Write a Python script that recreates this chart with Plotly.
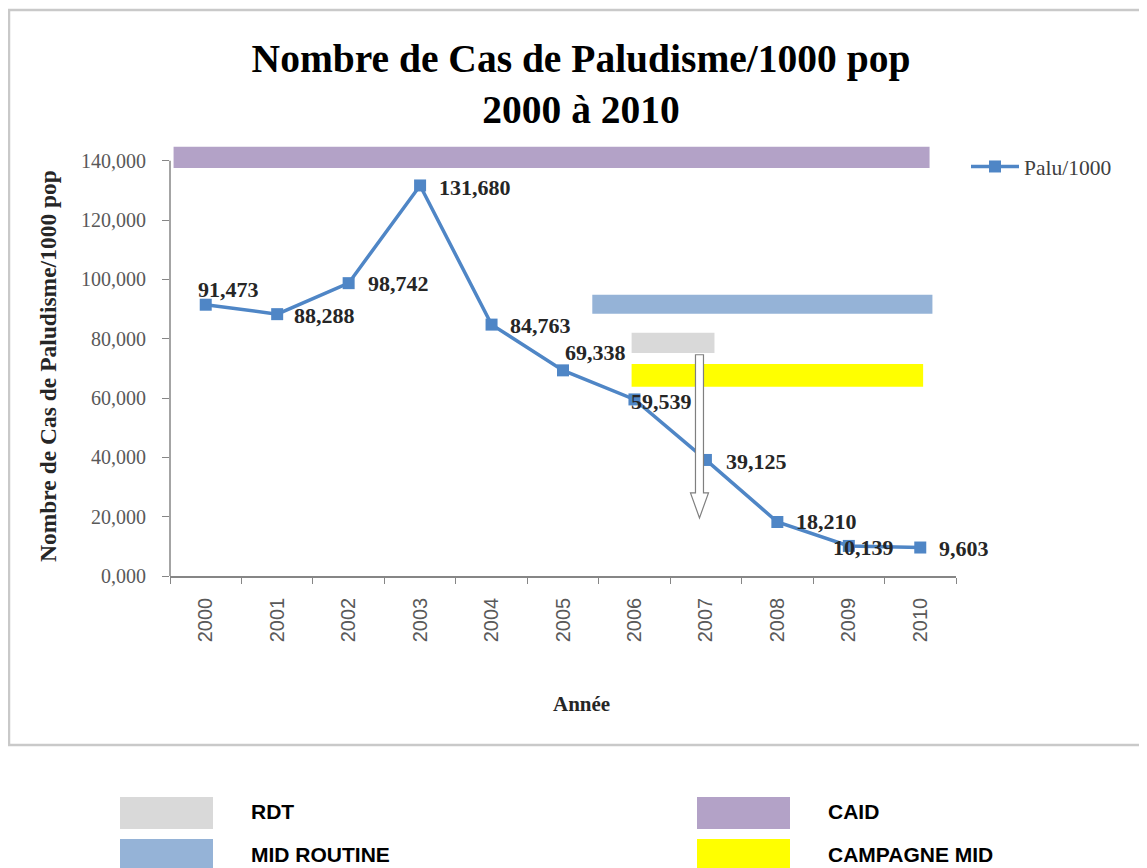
import plotly.graph_objects as go

# --- data -------------------------------------------------------------
years = ["2000", "2001", "2002", "2003", "2004", "2005",
         "2006", "2007", "2008", "2009", "2010"]
palu_per_1000 = [91.473, 88.288, 98.742, 131.680, 84.763, 69.338,
                 59.539, 39.125, 18.210, 10.139, 9.603]

# label offsets from each point, in pixels (left edge / vertical)
label_dx = [-10, 15, 17, 17, 16, 0, -5, 18, 17, -18, 17]
label_dy = [15, -1, 0, -2, -1, 18, -2, -2, 0, -2, -1]

# intervention periods (x in category index units, y band in chart units)
interventions = ["RDT", "MID ROUTINE", "CAID", "CAMPAGNE MID"]
interv_start = [5.96, 5.41, -0.45, 5.96]
interv_end = [7.12, 10.17, 10.13, 10.04]
interv_low = [75.2, 88.4, 137.6, 63.8]
interv_high = [82.0, 94.8, 144.7, 71.5]
interv_colors = ["#d9d9d9", "#95b3d7", "#b3a2c7", "#ffff00"]

# arrow marking the drop after RDT introduction
arrow_x = 6.91
arrow_top = 74.6
arrow_head = 28.0
arrow_tip = 19.6

# --- layout helpers ---------------------------------------------------
W, H = 1147, 868
OFF = 8  # page body margin
L, R, T, B = 162, 199, 135, 300


def px_x(px):
    return (px - OFF - L) / (W - L - R)


def px_y(py):
    return (H - B - (py - OFF)) / (H - T - B)


def fmt(v):
    return f"{v:.3f}".replace(".", ",")


fig = go.Figure()

fig.add_trace(
    go.Scatter(
        x=years,
        y=palu_per_1000,
        mode="lines+markers",
        name="Palu/1000",
        line={"color": "#4f86c6", "width": 3.5},
        marker={"symbol": "square", "size": 12, "color": "#4f86c6"},
        cliponaxis=False,
    )
)

annotations = []
# category axis: annotations are placed by category index
for i, (v, dx, dy) in enumerate(zip(palu_per_1000, label_dx, label_dy)):
    annotations.append(dict(
        xref="x", yref="y", x=i, y=v, text=f"<b>{fmt(v)}</b>",
        showarrow=False, xanchor="left", yanchor="middle",
        xshift=dx, yshift=dy,
        font={"family": "Liberation Serif", "size": 22, "color": "#262626"},
    ))

# axis titles (placed as in the original, slightly off the plot centre)
annotations.append(dict(
    xref="paper", yref="paper", x=px_x(581), y=px_y(704), text="<b>Année</b>",
    showarrow=False, xanchor="center", yanchor="middle",
    font={"family": "Liberation Serif", "size": 21, "color": "#262626"},
))
annotations.append(dict(
    xref="paper", yref="paper", x=px_x(48), y=px_y(366), textangle=-90,
    text="<b>Nombre de Cas de Paludisme/1000 pop</b>",
    showarrow=False, xanchor="center", yanchor="middle",
    font={"family": "Liberation Serif", "size": 23.5, "color": "#262626"},
))

shapes = []
for name, x0, x1, y0, y1, col in zip(interventions, interv_start, interv_end,
                                     interv_low, interv_high, interv_colors):
    shapes.append(dict(type="rect", xref="x", yref="y", x0=x0, x1=x1,
                       y0=y0, y1=y1, fillcolor=col, line={"width": 0},
                       layer="below"))

# y axis line only up to the last tick
shapes.append(dict(type="line", xref="paper", yref="y", x0=0, x1=0,
                   y0=0, y1=140, line={"color": "#868686", "width": 1.5}))

# arrow
shapes.append(dict(
    type="path", xref="x", yref="y", xsizemode="pixel", xanchor=arrow_x,
    path=(f"M -4,{arrow_top} L 4,{arrow_top} L 4,{arrow_head} L 9,{arrow_head} "
          f"L 0,{arrow_tip} L -9,{arrow_head} L -4,{arrow_head} Z"),
    fillcolor="white", line={"color": "#7f7f7f", "width": 1.2}, layer="above",
))

# outer chart frame
shapes.append(dict(type="rect", xref="paper", yref="paper",
                   x0=px_x(9), x1=px_x(1145), y0=px_y(745), y1=px_y(10),
                   line={"color": "#c9c9c9", "width": 2.5}, layer="below"))

# bottom key for the interventions
key_boxes = [(120, 797), (120, 839), (697, 797), (697, 839)]
for name, col, (bx, by) in zip(interventions, interv_colors, key_boxes):
    shapes.append(dict(type="rect", xref="paper", yref="paper",
                       x0=px_x(bx), x1=px_x(bx + 93), y0=px_y(by + 32), y1=px_y(by),
                       fillcolor=col, line={"width": 0}))
    annotations.append(dict(
        xref="paper", yref="paper", x=px_x(bx + 129), y=px_y(by + 15),
        text=f"<b>{name}</b>", showarrow=False, xanchor="left", yanchor="middle",
        font={"family": "Liberation Sans", "size": 21, "color": "black"},
    ))

fig.update_layout(
    width=W,
    height=H,
    margin={"l": L, "r": R, "t": T, "b": B},
    paper_bgcolor="white",
    plot_bgcolor="white",
    separators=", ",
    title={
        "text": "<b>Nombre de Cas de Paludisme/1000 pop<br>2000 à 2010</b>",
        "x": (581 - OFF) / W,
        "xanchor": "center",
        "y": 1 - 64 / H,
        "yanchor": "top",
        "font": {"family": "Liberation Serif", "size": 39.5, "color": "black"},
    },
    xaxis={
        "type": "category",
        "range": [-0.5, 10.5],
        "tickson": "boundaries",
        "ticks": "outside",
        "ticklen": 6,
        "tickcolor": "#868686",
        "showline": True,
        "linecolor": "#868686",
        "linewidth": 1.5,
        "showgrid": False,
        "tickangle": -90,
        "ticklabelstandoff": 12,
        "tickfont": {"family": "Liberation Sans", "size": 20, "color": "#595959"},
    },
    yaxis={
        "range": [0, 146],
        "tickvals": [0, 20, 40, 60, 80, 100, 120, 140],
        "tickformat": ".3f",
        "ticks": "outside",
        "ticklen": 7,
        "tickcolor": "#868686",
        "showline": False,
        "showgrid": False,
        "zeroline": False,
        "ticklabelstandoff": 12,
        "tickfont": {"family": "Liberation Serif", "size": 20, "color": "#595959"},
    },
    legend={
        "x": px_x(966),
        "y": px_y(146),
        "xanchor": "left",
        "yanchor": "top",
        "itemwidth": 48,
        "font": {"family": "Liberation Serif", "size": 21.5, "color": "#404040"},
        "bgcolor": "rgba(0,0,0,0)",
    },
    showlegend=True,
    shapes=shapes,
    annotations=annotations,
)

fig.write_html("out.html")
